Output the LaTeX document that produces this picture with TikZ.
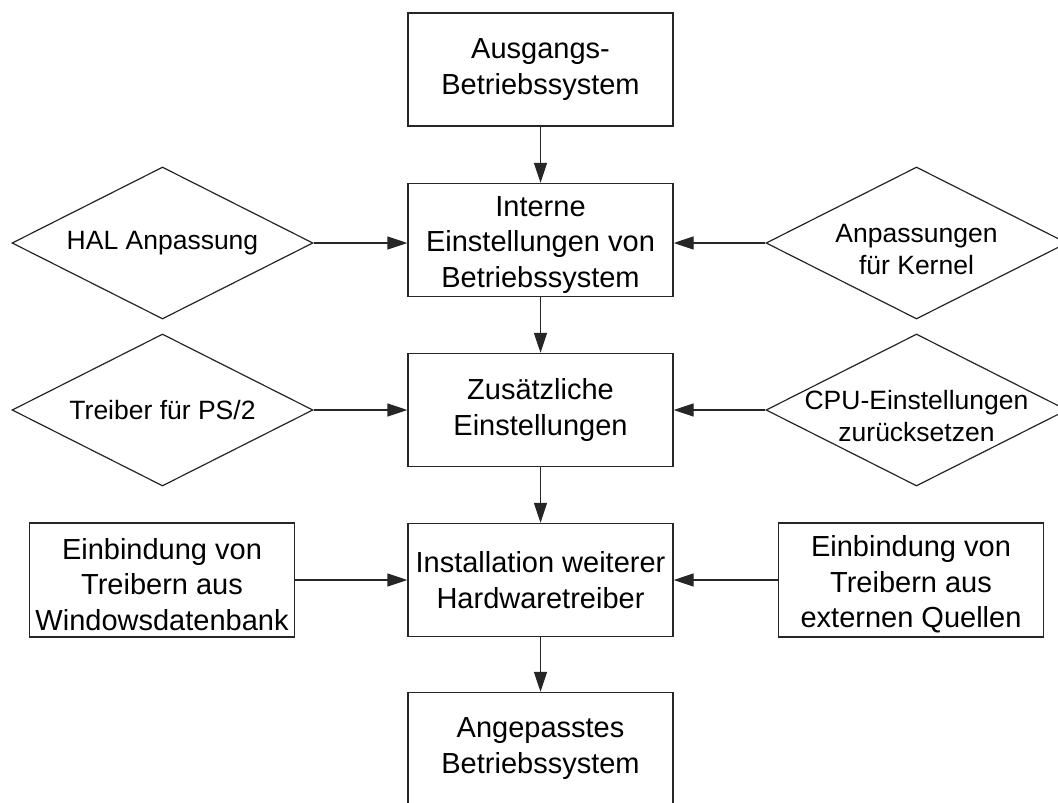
\documentclass[tikz,border=0pt]{standalone}
\usepackage{fontspec}
\setmainfont{Liberation Sans}
\usetikzlibrary{arrows.meta,shapes.geometric}
\newcommand{\tstrut}{\rule{0pt}{30pt}}
\begin{document}
\begin{tikzpicture}[x=1pt,y=-1pt,
 box/.style={draw=black!85, line width=1.4pt, minimum width=265pt, minimum height=113pt, inner sep=0pt, align=center, font=\fontsize{29}{36}\selectfont},
 box3/.style={box, font=\fontsize{29}{35.5}\selectfont},
 sidebox/.style={box3, minimum width=265pt, minimum height=114pt},
 dia/.style={draw=black!85, line width=1.2pt, diamond, minimum width=301pt, minimum height=152pt, inner sep=0pt},
 dtxt/.style={align=center, font=\fontsize{26.5}{32}\selectfont, inner sep=0pt},
 arr/.style={-{Triangle[length=20pt,width=13pt]}, line width=1.4pt, draw=black!85}]
\useasboundingbox (0,0) rectangle (1058,803);
\clip (0,0) rectangle (1058,803);
\fill[white] (0,0) rectangle (1058,803);
% main column
\node[box] (b1) at (540.5,69.5) {Ausgangs-\\Betriebssystem};
\node[box3] (b2) at (540.5,240) {\tstrut Interne\\Einstellungen von\\Betriebssystem};
\node[box] (b3) at (540.5,410) {Zusätzliche\\Einstellungen};
\node[box] (b4) at (540.5,580) {Installation weiterer\\Hardwaretreiber};
\node[box] (b5) at (540.5,749) {Angepasstes\\Betriebssystem};
% diamonds
\node[dia] (d1) at (162.5,243) {};
\node[dtxt] (t1) at (d1) {HAL Anpassung};
\node[dia] (d2) at (916.5,243) {};
\node[dtxt] (t2) at ([yshift=-6.5pt]d2.center) {Anpassungen\\für Kernel};
\node[dia] (d3) at (162.5,410) {};
\node[dtxt] (t3) at (d3) {Treiber für PS/2};
\node[dia] (d4) at (916.5,410) {};
\node[dtxt] (t4) at ([yshift=-6.5pt]d4.center) {CPU-Einstellungen\\zurücksetzen};
% side boxes
\node[sidebox] (s1) at (162,580) {\tstrut Einbindung von\\Treibern aus\\Windowsdatenbank};
\node[sidebox] (s2) at (911,580) {\tstrut Einbindung von\\Treibern aus\\externen Quellen};
% connectors
\draw[arr] (b1) -- (b2);
\draw[arr] (b2) -- (b3);
\draw[arr] (b3) -- (b4);
\draw[arr] (b4) -- (b5);
\draw[arr] (d1.east) -- (d1.east -| b2.west);
\draw[arr] (d2.west) -- (d2.west -| b2.east);
\draw[arr] (d3.east) -- (d3.east -| b3.west);
\draw[arr] (d4.west) -- (d4.west -| b3.east);
\draw[arr] (s1.east) -- (b4.west);
\draw[arr] (s2.west) -- (b4.east);
\end{tikzpicture}
\end{document}
